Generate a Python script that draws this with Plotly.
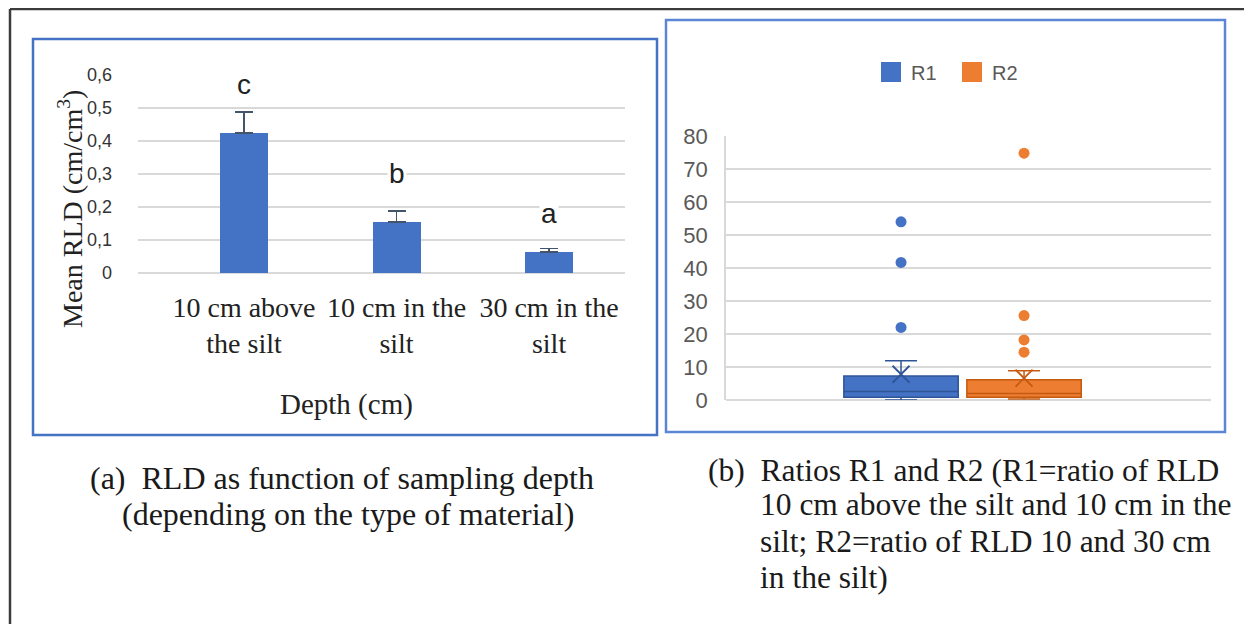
import plotly.graph_objects as go

W, H = 1252, 624
OFF = 8  # page body margin of the html page

# ---------------- data ----------------
depth_labels = ["10 cm above<br>the silt", "10 cm in the<br>silt", "30 cm in the<br>silt"]
mean_rld = [0.425, 0.155, 0.064]
rld_err = [0.063, 0.033, 0.010]
sig_letters = ["c", "b", "a"]
sig_label_y = [0.57, 0.303, 0.179]
rld_ticks = [0, 0.1, 0.2, 0.3, 0.4, 0.5, 0.6]
rld_tick_labels = ["0", "0,1", "0,2", "0,3", "0,4", "0,5", "0,6"]

ratio_names = ["R1", "R2"]
ratio_q1 = [0.8, 0.8]
ratio_median = [2.6, 2.0]
ratio_q3 = [7.3, 6.1]
ratio_low = [0.0, 0.3]
ratio_high = [11.9, 8.9]
ratio_mean = [7.8, 6.6]
r1_outliers = [54.0, 41.7, 22.0]
r2_outliers = [74.8, 25.6, 18.2, 14.5]
ratio_ticks = [0, 10, 20, 30, 40, 50, 60, 70, 80]

# ---------------- style ----------------
BLUE = "#4472C4"
BLUE_D = "#2F5597"
ORANGE = "#ED7D31"
ORANGE_D = "#C55A11"
GRID = "#D9D9D9"
SERIF = "Liberation Serif"
SANS = "Liberation Sans"
NB = "\u00a0"


def px(x):
    return (x - OFF) / W


def py(y):
    return 1 - (y - OFF) / H


fig = go.Figure()

# ---- (a) bar chart ----
fig.add_trace(go.Bar(
    x=depth_labels, y=mean_rld,
    marker=dict(color=BLUE, line=dict(width=0)),
    width=0.315,
    error_y=dict(type="data", symmetric=False, array=rld_err,
                 arrayminus=[0] * len(rld_err), color="#44546A",
                 thickness=1.5, width=9),
    showlegend=False, xaxis="x", yaxis="y",
))

for cat, letter, ly in zip(depth_labels, sig_letters, sig_label_y):
    fig.add_annotation(x=cat, y=ly, xref="x", yref="y", text=letter,
                       showarrow=False, bgcolor="white", xanchor="center", yanchor="middle",
                       font=dict(family=SANS, size=28, color="#222222"))

# ---- (b) box plots ----
box_styles = [(BLUE, BLUE_D), (ORANGE, ORANGE_D)]
for i, name in enumerate(ratio_names):
    fill, dark = box_styles[i]
    fig.add_trace(go.Box(
        x=[name], q1=[ratio_q1[i]], median=[ratio_median[i]], q3=[ratio_q3[i]],
        lowerfence=[ratio_low[i]], upperfence=[ratio_high[i]],
        width=0.93, whiskerwidth=0.28, fillcolor=fill,
        line=dict(color=dark, width=1.5), boxpoints=False,
        showlegend=False, hoverinfo="skip", xaxis="x2", yaxis="y2",
    ))

outlier_sets = [r1_outliers, r2_outliers]
for i, name in enumerate(ratio_names):
    fill, dark = box_styles[i]
    fig.add_trace(go.Scatter(
        x=[name] * len(outlier_sets[i]), y=outlier_sets[i], mode="markers",
        marker=dict(color=fill, size=11, line=dict(width=0)),
        showlegend=False, xaxis="x2", yaxis="y2",
    ))
    fig.add_trace(go.Scatter(
        x=[name], y=[ratio_mean[i]], mode="markers",
        marker=dict(symbol="x-thin", size=17, line=dict(color=dark, width=1.8)),
        showlegend=False, xaxis="x2", yaxis="y2",
    ))

# legend entries
for i, name in enumerate(ratio_names):
    fill, dark = box_styles[i]
    fig.add_trace(go.Scatter(
        x=[None], y=[None], mode="markers", name=name,
        marker=dict(symbol="square", size=16, color=fill, line=dict(color=fill, width=4)),
        xaxis="x2", yaxis="y2",
    ))

# ---------------- layout ----------------
fig.update_layout(
    width=W, height=H,
    margin=dict(l=0, r=0, t=0, b=0, autoexpand=False),
    paper_bgcolor="white", plot_bgcolor="white",
    bargap=0,
    legend=dict(orientation="h", x=px(871), xanchor="left", y=py(72), yanchor="middle",
                font=dict(family=SANS, size=20, color="#595959"),
                entrywidth=36, entrywidthmode="pixels",
                bgcolor="rgba(0,0,0,0)"),
    xaxis=dict(domain=[px(138), px(625)], range=[-0.695, 2.498], showgrid=False,
               showline=False, zeroline=False, ticks="", automargin=False,
               tickfont=dict(family=SERIF, size=28, color="#222222"),
               ticklabelstandoff=15),
    yaxis=dict(domain=[py(273), py(75)], range=[0, 0.6], tickvals=rld_ticks, ticktext=rld_tick_labels,
               showgrid=True, gridcolor=GRID, gridwidth=1.5, zeroline=True, zerolinecolor=GRID,
               zerolinewidth=1.5, showline=False, ticks="", automargin=False,
               tickfont=dict(family=SANS, size=18, color="#333333"), ticklabelstandoff=25),
    xaxis2=dict(domain=[px(726), px(1211)], range=[-1.423, 2.52], showgrid=False,
                showticklabels=False, showline=False, zeroline=False, ticks="",
                automargin=False, anchor="y2"),
    yaxis2=dict(domain=[py(400), py(136)], range=[0, 80], tickvals=ratio_ticks,
                showgrid=True, gridcolor=GRID, gridwidth=1.5, zeroline=True, zerolinecolor=GRID,
                zerolinewidth=1.5, showline=True, linecolor=GRID, linewidth=1.5, ticks="",
                automargin=False,
                tickfont=dict(family=SANS, size=22, color="#595959"), ticklabelstandoff=12,
                anchor="x2"),
)

# axis titles (a)
fig.add_annotation(x=px(71), y=py(209), xref="paper", yref="paper", textangle=-90,
                   xanchor="center", yanchor="middle",
                   text="Mean RLD (cm/cm<sup>3</sup>)", showarrow=False,
                   font=dict(family=SERIF, size=28, color="#222222"))
fig.add_annotation(x=px(346), y=py(404), xref="paper", yref="paper",
                   xanchor="center", yanchor="middle",
                   text="Depth (cm)", showarrow=False,
                   font=dict(family=SERIF, size=29, color="#222222"))

# captions
caption_a = ["(a)" + NB * 2 + "RLD as function of sampling depth", "(depending on the type of material)"]
caption_b = ["(b)" + NB * 2 + "Ratios R1 and R2 (R1=ratio of RLD", "10 cm above the silt and 10 cm in the",
             "silt; R2=ratio of RLD 10 and 30 cm", "in the silt)"]
for line, xl, yl in zip(caption_a, [88, 120], [478, 514]):
    fig.add_annotation(x=px(xl), y=py(yl), xref="paper", yref="paper", text=line,
                       showarrow=False, xanchor="left", yanchor="middle",
                       font=dict(family=SERIF, size=32, color="#1a1a1a"))
for line, xl, yl in zip(caption_b, [706, 758, 758, 758], [470, 505, 541, 577]):
    fig.add_annotation(x=px(xl), y=py(yl), xref="paper", yref="paper", text=line,
                       showarrow=False, xanchor="left", yanchor="middle",
                       font=dict(family=SERIF, size=31.5, color="#1a1a1a"))

# frames
fig.add_shape(type="rect", xref="paper", yref="paper", x0=px(33), x1=px(657), y0=py(435), y1=py(39),
              line=dict(color=BLUE, width=2.5))
fig.add_shape(type="rect", xref="paper", yref="paper", x0=px(666), x1=px(1225), y0=py(432), y1=py(20),
              line=dict(color="#5B86D6", width=2.5))
# outer page border
fig.add_shape(type="line", xref="paper", yref="paper", x0=px(10), x1=px(10), y0=py(640), y1=py(9),
              line=dict(color="#3C3C3C", width=2.5))
fig.add_shape(type="line", xref="paper", yref="paper", x0=px(10), x1=px(1270), y0=py(9), y1=py(9),
              line=dict(color="#3C3C3C", width=2.5))

fig.write_html("out.html")
